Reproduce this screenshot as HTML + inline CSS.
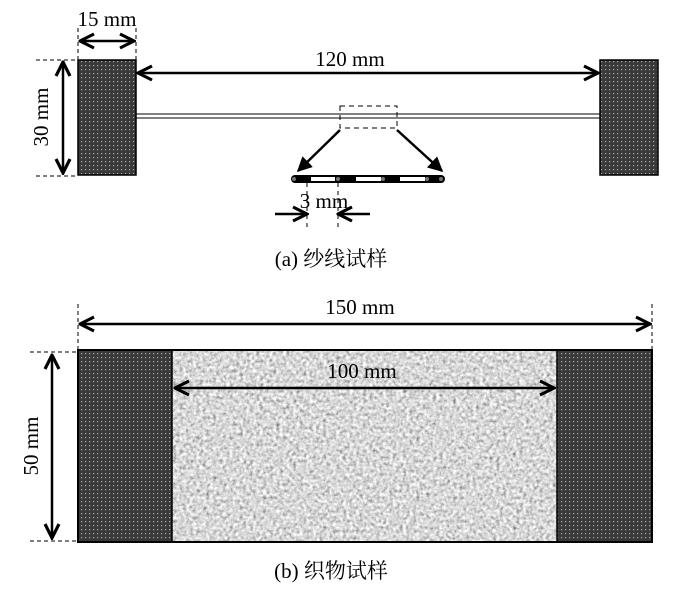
<!DOCTYPE html>
<html><head><meta charset="utf-8"><style>
html,body{margin:0;padding:0;background:#fff;}
svg{display:block;}
text{font-family:"Liberation Serif","Noto Serif CJK SC",serif;fill:#000;}
</style></head><body>
<svg width="696" height="595" viewBox="0 0 696 595" xmlns="http://www.w3.org/2000/svg">
<defs>
<pattern id="dots" width="4" height="4" patternUnits="userSpaceOnUse">
<rect width="4" height="4" fill="#3a3a3a"/>
<rect x="1" y="1" width="1.2" height="1.2" fill="#aaa"/>
</pattern>
<filter id="gn" x="0" y="0" width="100%" height="100%">
<feTurbulence type="fractalNoise" baseFrequency="0.3" numOctaves="2" seed="5" result="t"/>
<feColorMatrix in="t" type="matrix" values="0.8 0.8 0 0 -0.12  0.8 0.8 0 0 -0.12  0.8 0.8 0 0 -0.12  0 0 0 0 1"/>
</filter>
<marker id="ah" viewBox="0 0 10 10" refX="9" refY="5" markerWidth="7" markerHeight="7" orient="auto-start-reverse">
<path d="M1,1 L9,5 L1,9" fill="none" stroke="#000" stroke-width="1.8"/>
</marker>
<marker id="ahf" viewBox="0 0 10 10" refX="9" refY="5" markerWidth="6" markerHeight="6" orient="auto">
<path d="M0,0 L10,5 L0,10 Z" fill="#000"/>
</marker>
</defs>

<rect x="78" y="60" width="58" height="115" fill="url(#dots)" stroke="#000" stroke-width="1.5"/>
<rect x="600" y="60" width="58" height="115" fill="url(#dots)" stroke="#000" stroke-width="1.5"/>
<line x1="136" y1="114" x2="600" y2="114" stroke="#000" stroke-width="1"/>
<line x1="136" y1="118" x2="600" y2="118" stroke="#000" stroke-width="1"/>
<rect x="340" y="106" width="57" height="22" fill="none" stroke="#000" stroke-width="1" stroke-dasharray="5,4"/>
<line x1="340" y1="130" x2="298" y2="171" stroke="#000" stroke-width="2.5" marker-end="url(#ahf)"/>
<line x1="397" y1="130" x2="442" y2="171" stroke="#000" stroke-width="2.5" marker-end="url(#ahf)"/>
<rect x="291" y="175" width="154" height="8" rx="4" fill="#000"/>
<rect x="311" y="177" width="24" height="4" fill="#fff"/>
<rect x="356" y="177" width="25" height="4" fill="#fff"/>
<rect x="400" y="177" width="25" height="4" fill="#fff"/>
<circle cx="294" cy="179" r="2" fill="#777"/>
<circle cx="338" cy="179" r="2" fill="#777"/>
<circle cx="383" cy="179" r="2" fill="#777"/>
<circle cx="427" cy="179" r="2" fill="#777"/>
<circle cx="441" cy="179" r="2" fill="#777"/>
<line x1="307" y1="183" x2="307" y2="228" stroke="#000" stroke-dasharray="4,4"/>
<line x1="338" y1="183" x2="338" y2="228" stroke="#000" stroke-dasharray="4,4"/>
<line x1="275" y1="214" x2="307" y2="214" stroke="#000" stroke-width="2.5" marker-end="url(#ah)"/>
<line x1="370" y1="214" x2="338" y2="214" stroke="#000" stroke-width="2.5" marker-end="url(#ah)"/>
<text x="324" y="208" font-size="21" text-anchor="middle">3 mm</text>

<line x1="78" y1="28" x2="78" y2="60" stroke="#000" stroke-dasharray="4,3"/>
<line x1="136" y1="28" x2="136" y2="60" stroke="#000" stroke-dasharray="4,3"/>
<line x1="80" y1="41" x2="134" y2="41" stroke="#000" stroke-width="2.5" marker-start="url(#ah)" marker-end="url(#ah)"/>
<text x="107" y="26" font-size="21" text-anchor="middle">15 mm</text>
<line x1="36" y1="60" x2="78" y2="60" stroke="#000" stroke-dasharray="4,3"/>
<line x1="36" y1="176" x2="78" y2="176" stroke="#000" stroke-dasharray="4,3"/>
<line x1="63" y1="62" x2="63" y2="173" stroke="#000" stroke-width="2.5" marker-start="url(#ah)" marker-end="url(#ah)"/>
<text transform="translate(48,117) rotate(-90)" font-size="21" text-anchor="middle">30 mm</text>
<line x1="138" y1="73" x2="598" y2="73" stroke="#000" stroke-width="2.5" marker-start="url(#ah)" marker-end="url(#ah)"/>
<text x="350" y="66" font-size="21" text-anchor="middle">120 mm</text>

<text x="331" y="266" font-size="21" text-anchor="middle">(a) 纱线试样</text>

<rect x="172" y="350" width="385" height="192" fill="#999" filter="url(#gn)"/>
<rect x="78" y="350" width="94" height="192" fill="url(#dots)"/>
<rect x="557" y="350" width="95" height="192" fill="url(#dots)"/>
<rect x="78" y="350" width="574" height="192" fill="none" stroke="#000" stroke-width="2"/>
<line x1="172" y1="350" x2="172" y2="542" stroke="#000" stroke-width="1.5"/>
<line x1="557" y1="350" x2="557" y2="542" stroke="#000" stroke-width="1.5"/>
<line x1="78" y1="304" x2="78" y2="350" stroke="#000" stroke-dasharray="4,3"/>
<line x1="652" y1="304" x2="652" y2="350" stroke="#000" stroke-dasharray="4,3"/>
<line x1="80" y1="324" x2="650" y2="324" stroke="#000" stroke-width="2.5" marker-start="url(#ah)" marker-end="url(#ah)"/>
<text x="360" y="314" font-size="21" text-anchor="middle">150 mm</text>
<line x1="175" y1="388" x2="554" y2="388" stroke="#000" stroke-width="2.5" marker-start="url(#ah)" marker-end="url(#ah)"/>
<text x="362" y="378" font-size="21" text-anchor="middle">100 mm</text>
<line x1="30" y1="352" x2="78" y2="352" stroke="#000" stroke-dasharray="4,3"/>
<line x1="30" y1="541" x2="78" y2="541" stroke="#000" stroke-dasharray="4,3"/>
<line x1="52" y1="355" x2="52" y2="538" stroke="#000" stroke-width="2.5" marker-start="url(#ah)" marker-end="url(#ah)"/>
<text transform="translate(38,446) rotate(-90)" font-size="21" text-anchor="middle">50 mm</text>

<text x="331" y="578" font-size="21" text-anchor="middle">(b) 织物试样</text>
</svg>
</body></html>
